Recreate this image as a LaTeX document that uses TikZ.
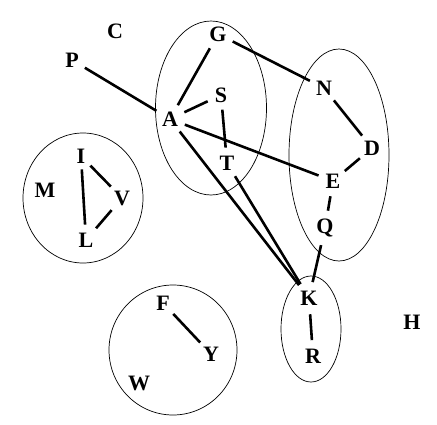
\documentclass[tikz,border=0pt]{standalone}
\usepackage{fontspec}
\setmainfont{Liberation Serif}

\begin{document}
\begin{tikzpicture}[x=1pt, y=-1pt,
  vtx/.style={circle, inner sep=3.5pt, font=\fontsize{22}{26}\selectfont\bfseries},
  edge/.style={line width=2.6pt},
  group/.style={line width=0.7pt}]
\useasboundingbox (0,0) rectangle (437,424);
% groups
\draw[group] (211,108) ellipse [x radius=55.5, y radius=87];
\draw[group] (339,155) ellipse [x radius=50, y radius=106];
\draw[group] (83,198) ellipse [x radius=60, y radius=65];
\draw[group] (173,350) ellipse [x radius=64, y radius=65];
\draw[group] (311,329) ellipse [x radius=30, y radius=53];
% letters
\node[vtx] (C) at (115,31) {C};
\node[vtx] (P) at (72,60) {P};
\node[vtx] (G) at (218,34) {G};
\node[vtx] (A) at (170,119) {A};
\node[vtx] (S) at (221,95) {S};
\node[vtx] (T) at (227,163) {T};
\node[vtx] (N) at (324,88) {N};
\node[vtx] (D) at (372,148) {D};
\node[vtx] (E) at (333,181) {E};
\node[vtx] (Q) at (325,228) {Q};
\node[vtx] (K) at (309,298) {K};
\node[vtx] (R) at (313,356) {R};
\node[vtx] (H) at (412,322) {H};
\node[vtx] (M) at (45,190) {M};
\node[vtx] (I) at (81,156) {I};
\node[vtx] (V) at (122,198) {V};
\node[vtx] (L) at (86,240) {L};
\node[vtx] (F) at (163,303) {F};
\node[vtx] (Y) at (211,354) {Y};
\node[vtx] (W) at (139,383) {W};
% links
\draw[edge] (P) -- (A);
\draw[edge] (A) -- (G);
\draw[edge] (A) -- (S);
\draw[edge] (A) -- (E);
\draw[edge] (A) -- (K);
\draw[edge] (S) -- (T);
\draw[edge] (T) -- (K);
\draw[edge] (G) -- (N);
\draw[edge] (N) -- (D);
\draw[edge] (D) -- (E);
\draw[edge] (E) -- (Q);
\draw[edge] (Q) -- (K);
\draw[edge] (K) -- (R);
\draw[edge] (I) -- (V);
\draw[edge] (V) -- (L);
\draw[edge] (I) -- (L);
\draw[edge] (F) -- (Y);
\end{tikzpicture}
\end{document}
